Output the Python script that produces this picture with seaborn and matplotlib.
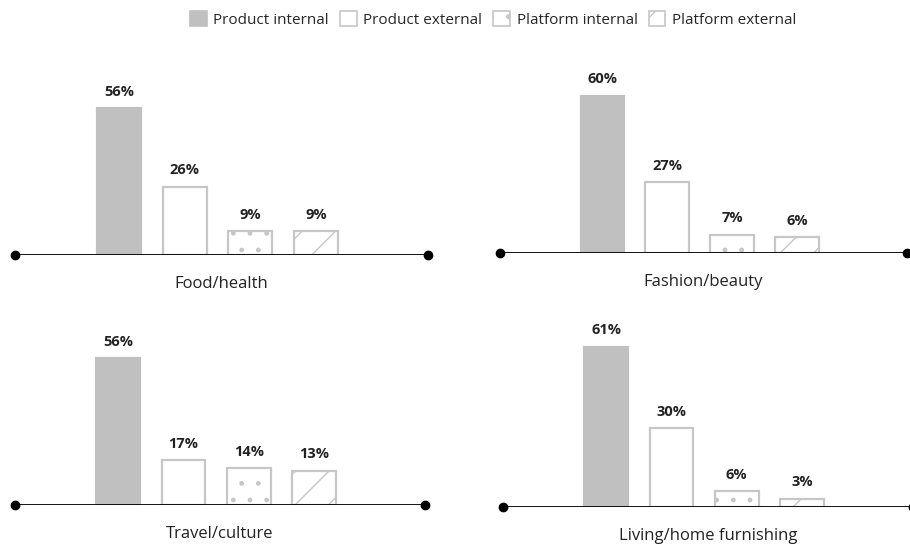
import matplotlib
matplotlib.use("Agg")
import matplotlib.pyplot as plt
import seaborn as sns
import pandas as pd
from matplotlib.patches import Patch

sns.set_style("white")
plt.rcParams['font.family'] = ['Open Sans', 'DejaVu Sans']
plt.rcParams['hatch.linewidth'] = 1.0

categories = ["Food/health", "Fashion/beauty", "Travel/culture", "Living/home furnishing"]
series = ["Product internal", "Product external", "Platform internal", "Platform external"]
values = {
    "Food/health": [56, 26, 9, 9],
    "Fashion/beauty": [60, 27, 7, 6],
    "Travel/culture": [56, 17, 14, 13],
    "Living/home furnishing": [61, 30, 6, 3],
}

rows = []
for c in categories:
    for s, v in zip(series, values[c]):
        rows.append({"category": c, "series": s, "value": v})
df = pd.DataFrame(rows)

W, H = 910, 550
fig = plt.figure(figsize=(W / 100, H / 100), dpi=100)

GRAY = "#c0c0c0"
EDGE = "#c6c6c6"
styles = [
    dict(facecolor=GRAY, edgecolor=GRAY, hatch=None),
    dict(facecolor="white", edgecolor=EDGE, hatch=None),
    dict(facecolor="white", edgecolor=EDGE, hatch="."),
    dict(facecolor="white", edgecolor=EDGE, hatch="/"),
]

# panel pixel geometry: (left, right, baseline_y)
panels = [(15, 428, 255), (500, 907, 253), (15, 425, 505), (503, 913, 507)]
YMAX = 75
PX_PER_UNIT = 2.62
XL = (-1.58, 4.70)

for c, (l, r, base) in zip(categories, panels):
    h = YMAX * PX_PER_UNIT
    ax = fig.add_axes([l / W, (H - base) / H, (r - l) / W, h / H])
    sub = df[df.category == c]
    sns.barplot(data=sub, x="series", y="value", order=series, ax=ax,
                width=0.67, color=GRAY, errorbar=None)
    for p, st in zip(ax.patches, styles):
        p.set_facecolor(st["facecolor"])
        p.set_edgecolor(st["edgecolor"])
        p.set_linewidth(1.6)
        if st["hatch"]:
            p.set_hatch(st["hatch"])
    ax.set_xlim(*XL)
    ax.set_ylim(0, YMAX)
    for cont in ax.containers:
        ax.bar_label(cont, fmt="%d%%", padding=7, fontsize=10.5, fontweight="bold",
                     color="#222222")
    for sp in ax.spines.values():
        sp.set_visible(False)
    ax.set_xticks([])
    ax.set_yticks([])
    ax.set_xlabel("")
    ax.set_ylabel("")
    ax.axhline(0, color="black", lw=1.3, zorder=3)
    ax.plot(list(XL), [0, 0], "o", color="black", ms=6, clip_on=False, zorder=4)
    ax.text(0.5, -0.105, c, transform=ax.transAxes, ha="center", va="top",
            fontsize=12, color="#222222")

handles = [Patch(facecolor=st["facecolor"], edgecolor=st["edgecolor"],
                 hatch=st["hatch"], linewidth=1.2) for st in styles]
fig.legend(handles, series, loc="upper center", bbox_to_anchor=(0.542, 1.005),
           ncol=4, frameon=False, fontsize=11, handlelength=1.1, handleheight=1.1,
           handletextpad=0.45, columnspacing=0.7)

fig.savefig("out.png", dpi=100)
